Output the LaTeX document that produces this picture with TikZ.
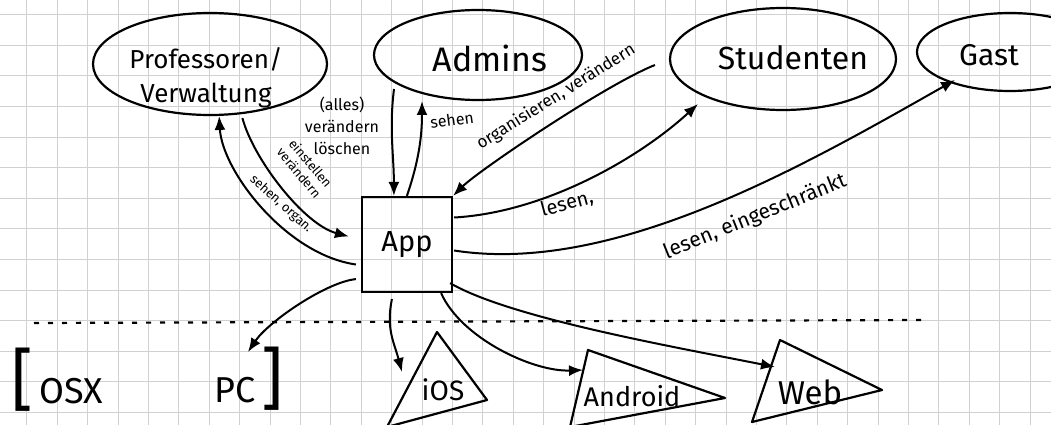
\documentclass[tikz,border=0pt]{standalone}
\usepackage{fontspec}
\setmainfont{Fira Sans}
\usetikzlibrary{arrows.meta,calc,shapes.geometric}
\begin{document}
\begin{tikzpicture}[x=1pt,y=-1pt,
  gridline/.style={black!18,line width=0.6pt},
  ell/.style={draw,ellipse,line width=2.2pt,inner sep=0pt},
  appbox/.style={draw,rectangle,line width=2.2pt,inner sep=0pt,minimum width=90pt,minimum height=95pt,font=\fontsize{29}{31}\selectfont},
  arr/.style={line width=2pt,-{Latex[length=14pt,width=11pt]}},
  tri/.style={line width=2.2pt,line join=round},
  dashline/.style={line width=2.2pt,dash pattern=on 5pt off 9pt},
  big/.style={inner sep=0pt,align=center},
  lbl/.style={inner sep=0pt,align=center,font=\fontsize{16}{22}\selectfont}
]
\useasboundingbox (0,0) rectangle (1051,425);
\fill[white] (0,0) rectangle (1051,425);
% graph paper
\foreach \i in {1,...,35} \draw[gridline] ({-3.8+30.4*\i},0) -- ({-3.8+30.4*\i},425);
\foreach \j in {0,...,13} \draw[gridline] (0,{14.4+30.6*\j}) -- (1051,{14.4+30.6*\j});

% actors
\node[ell,minimum width=234pt,minimum height=102pt] (prof) at (210,64) {};
\node[big,font=\fontsize{26}{34}\selectfont] (proftext) at (206,78) {Professoren/\\Verwaltung};
\node[ell,minimum width=208pt,minimum height=90pt] (admins) at (478,55) {};
\node[big,font=\fontsize{34}{36}\selectfont] (admintext) at (490,58) {Admins};
\node[ell,minimum width=226pt,minimum height=102pt] (stud) at (783,59) {};
\node[big,font=\fontsize{32}{34}\selectfont] (studtext) at (793,58) {Studenten};
\node[ell,minimum width=186pt,minimum height=78pt] (gast) at (1010,52) {};
\node[big,font=\fontsize{30}{32}\selectfont] (gasttext) at (989,55) {Gast};

% app
\node[appbox] (app) at (407,244.5) {App};

% platforms
\draw[dashline] (34,323) -- (925,320);
\node[big,anchor=base west,font=\fontsize{36}{38}\selectfont] (osx) at (11,403) {{\fontsize{68}{68}\selectfont[}\,OSX};
\node[big,anchor=base west,font=\fontsize{36}{38}\selectfont] (pc) at (214,402) {PC\,{\fontsize{68}{68}\selectfont]}};
\coordinate (pctop) at (248,352);
\draw[tri] (437,332) -- (387,427) -- (487,400) -- cycle;
\node[big,font=\fontsize{28}{30}\selectfont] (ios) at (443,390) {iOS};
\draw[tri] (588,350) -- (570,427) -- (725,398) -- cycle;
\node[big,font=\fontsize{27}{29}\selectfont] (android) at (632,396) {Android};
\draw[tri] (780,340) -- (752,422) -- (882,390) -- cycle;
\node[big,font=\fontsize{33}{35}\selectfont] (web) at (810,392) {Web};

% connectors
\draw[arr,shorten <=4pt] (prof.-58) .. controls +(12,45) and +(-45,-12) .. ($(app.west)+(-12,-8)$);
\draw[arr] ($(app.west)+(-5,20)$) .. controls +(-70,-10) and +(3,55) .. (prof.-80);
\draw[arr] ($(admins.center)+(-84,34)$) .. controls +(-5,40) and +(0,-40) .. ($(app.north west)+(33,0)$);
\draw[arr] ($(app.north west)+(46,0)$) .. controls +(12,-35) and +(0,35) .. ($(admins.center)+(-56,46)$);
\draw[arr] ($(stud.west)+(-14,6)$) .. controls +(-50,20) and +(25,-25) .. (app.north east);
\draw[arr] ($(app.east)+(1,-27)$) .. controls +(90,-5) and +(-60,55) .. ($(stud.center)+(-85,45)$);
\draw[arr] ($(app.east)+(1,6)$) .. controls +(160,25) and +(-150,85) .. ($(gast.center)+(-55,28)$);
\draw[arr] ($(app.south west)+(-5,-14)$) .. controls +(-30,3) and +(20,-30) .. (pctop);
\draw[arr] ($(app.south west)+(31,6)$) .. controls +(-6,30) and +(-8,-30) .. ($(ios.center)+(-41,-18)$);
\draw[arr] ($(app.south east)+(-12,0)$) .. controls +(20,45) and +(-50,2) .. ($(android.center)+(-49,-26)$);
\draw[arr] ($(app.south east)+(-3,-10)$) .. controls +(60,35) and +(-100,-20) .. ($(web.center)+(-35,-25)$);

% labels
\node[lbl] (l1) at (342,126) {(alles)\\verändern\\löschen};
\node[lbl,rotate=8] (l2) at (452,120) {sehen};
\node[lbl,rotate=32,font=\fontsize{17}{19}\selectfont] (l3) at (556,97) {organisieren, verändern};
\node[lbl,rotate=15,font=\fontsize{20}{22}\selectfont] (l4) at (567,204) {lesen,};
\node[lbl,rotate=22,font=\fontsize{21}{23}\selectfont] (l5) at (755,217) {lesen, eingeschränkt};
\node[lbl,rotate=-50,font=\fontsize{13}{15}\selectfont] (l6) at (305,168) {einstellen\\verändern};
\node[lbl,rotate=-42,font=\fontsize{13}{15}\selectfont] (l7) at (281,204) {sehen, organ.};
\end{tikzpicture}
\end{document}
